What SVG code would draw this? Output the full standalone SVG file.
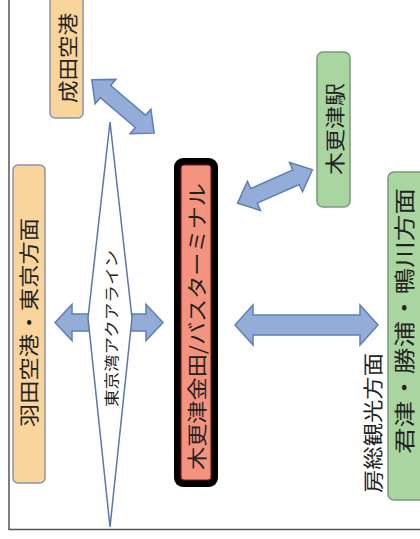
<svg xmlns="http://www.w3.org/2000/svg" width="420" height="539" viewBox="0 0 420 539">
<style>
.lbl{font-family:"Noto Sans CJK JP","Noto Sans",sans-serif;fill:#222;text-anchor:middle;dominant-baseline:central}
.arr{fill:#93acd8;stroke:#5f7fb5;stroke-width:1.5;stroke-linejoin:miter}
.org{fill:#f9d49b;stroke:#8a94a8;stroke-width:1.5}
.grn{fill:#a9d5a0;stroke:#789a7a;stroke-width:1.5}
</style>
<defs>
<polygon id="dbl82" points="-41,0 -23,-16 -23,-8 23,-8 23,-16 41,0 23,16 23,8 -23,8 -23,16"/>
</defs>
<rect width="420" height="539" fill="#fff"/>
<g id="frame">
<path d="M9,0 V529.5 H420" fill="none" stroke="#555" stroke-width="1.5"/>
</g>
<g id="connectors">
<use href="#dbl82" class="arr" transform="translate(123,106.5) rotate(40.5)"/>
<use href="#dbl82" class="arr" transform="translate(275,186.5) rotate(-24)"/>
<polygon class="arr" transform="translate(306.5,325)" points="-71.5,0 -53.5,-20 -53.5,-10 53.5,-10 53.5,-20 71.5,0 53.5,20 53.5,10 -53.5,10 -53.5,20"/>
<polygon class="arr" transform="translate(109,322.5)" points="-54,0 -37,-18 -37,-8.5 37,-8.5 37,-18 54,0 37,18 37,8.5 -37,8.5 -37,18"/>
</g>
<g id="aqualine">
<polygon points="110,122 132,318 110,527 88,318" fill="#fff" stroke="#5b78a6" stroke-width="1.5"/>
<text class="lbl" transform="translate(110,328.5) rotate(-90)" font-size="15" textLength="157" lengthAdjust="spacingAndGlyphs">東京湾アクアライン</text>
</g>
<g id="narita">
<rect class="org" x="50" y="-10" width="33" height="128" rx="5"/>
<text class="lbl" transform="translate(67,58) rotate(-90)" font-size="20" textLength="90" lengthAdjust="spacingAndGlyphs">成田空港</text>
</g>
<g id="haneda">
<rect class="org" x="13" y="165" width="32" height="318" rx="5"/>
<text class="lbl" transform="translate(28.5,322.5) rotate(-90)" font-size="20" textLength="209" lengthAdjust="spacingAndGlyphs">羽田空港・東京方面</text>
</g>
<g id="terminal">
<rect x="174" y="158" width="44" height="329" rx="9" fill="#000"/>
<rect x="181" y="165" width="30" height="315" rx="3" fill="#f4937f" stroke="#7a1a1a" stroke-width="1.2"/>
<text class="lbl" transform="translate(196,326.5) rotate(-90)" font-size="20" textLength="287" lengthAdjust="spacingAndGlyphs">木更津金田/バスターミナル</text>
</g>
<g id="kisarazu">
<rect class="grn" x="317" y="52" width="33" height="155" rx="6"/>
<text class="lbl" transform="translate(334,129) rotate(-90)" font-size="20" textLength="92" lengthAdjust="spacingAndGlyphs">木更津駅</text>
</g>
<g id="boso">
<text class="lbl" transform="translate(372,423) rotate(-90)" font-size="20" textLength="140" lengthAdjust="spacingAndGlyphs">房総観光方面</text>
<rect class="grn" x="388" y="172" width="42" height="328" rx="6"/>
<text class="lbl" transform="translate(403,321) rotate(-90)" font-size="21" textLength="266" lengthAdjust="spacingAndGlyphs">君津・勝浦・鴨川方面</text>
</g>
</svg>
